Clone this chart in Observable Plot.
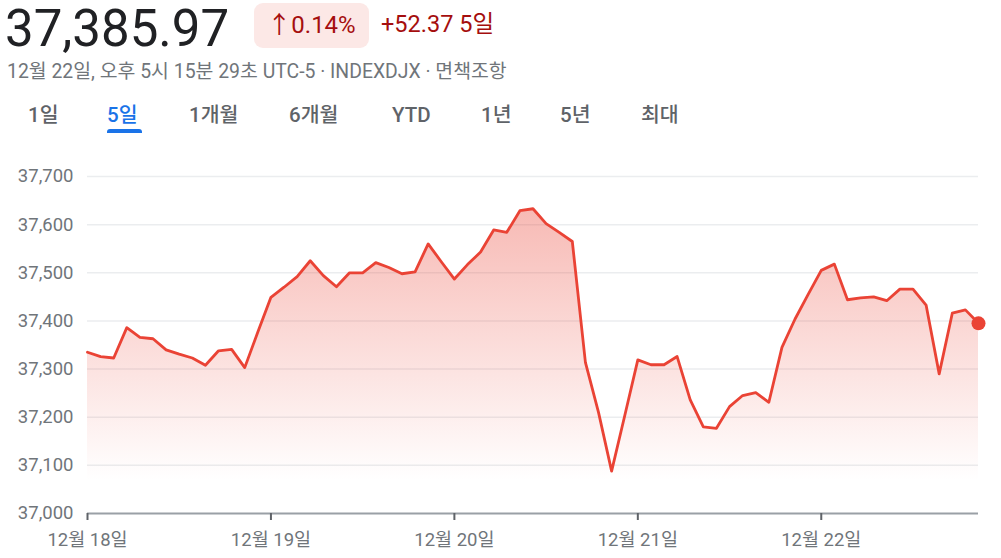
<!DOCTYPE html>
<html>
<head>
<meta charset="utf-8">
<script src="https://cdn.jsdelivr.net/npm/d3@7"></script>
<script src="https://cdn.jsdelivr.net/npm/@observablehq/plot@0.6"></script>
<style>
  html, body { margin: 0; padding: 0; background: #fff; width: 1001px; height: 558px; overflow: hidden; }
  body { position: relative; font-family: Roboto, "Noto Sans CJK KR", sans-serif; }
  .price { position: absolute; left: 5px; top: 0px; font-size: 51px; line-height: 58px; color: #202124; }
  .badge { position: absolute; left: 254px; top: 3px; width: 115px; height: 45px; border-radius: 9px; background: #fce8e6; color: #a50e0e; font-size: 24px; line-height: 45px; text-align: center; }
  .chg { position: absolute; left: 381px; top: 8px; font-size: 23.5px; line-height: 32px; color: #a50e0e; }
  .meta { position: absolute; left: 7px; top: 59px; font-size: 19.4px; line-height: 26px; color: #70757a; white-space: nowrap; }
  .tabs { position: absolute; left: 28px; top: 100px; white-space: nowrap; font-size: 20.5px; line-height: 30px; color: #5f6368; font-weight: 500; }
  .tab { display: inline-block; }
  .tab.on { color: #1a73e8; }
  .uline { position: absolute; left: 107px; top: 129px; width: 35px; height: 4px; border-radius: 3px 3px 0 0; background: #1a73e8; }
  #chart { position: absolute; left: 0; top: 140px; }
</style>
</head>
<body>
<div class="price">37,385.97</div>
<div class="badge">↑0.14%</div>
<div class="chg">+52.37 5일</div>
<div class="meta">12월 22일, 오후 5시 15분 29초 UTC-5 · INDEXDJX · 면책조항</div>
<div class="tabs"><span class="tab" style="width:79px">1일</span><span class="tab on" style="width:82px">5일</span><span class="tab" style="width:100px">1개월</span><span class="tab" style="width:103px">6개월</span><span class="tab" style="width:89px">YTD</span><span class="tab" style="width:79px">1년</span><span class="tab" style="width:81px">5년</span><span class="tab">최대</span></div>
<div class="uline"></div>
<div id="chart"></div>
<script>
const dayLabels = ["12월 18일", "12월 19일", "12월 20일", "12월 21일", "12월 22일"];
const dec18 = [37335, 37326, 37323, 37386, 37366, 37363, 37340, 37331, 37323, 37308, 37338, 37341, 37303, 37377];
const dec19 = [37449, 37470, 37492, 37525, 37494, 37471, 37500, 37500, 37521, 37511, 37498, 37502, 37560, 37523];
const dec20 = [37487, 37517, 37543, 37589, 37584, 37629, 37633, 37602, 37584, 37565, 37314, 37210, 37088, 37203];
const dec21 = [37319, 37309, 37309, 37326, 37236, 37180, 37177, 37222, 37245, 37251, 37231, 37345, 37404, 37455];
const dec22 = [37505, 37518, 37444, 37448, 37450, 37442, 37466, 37466, 37433, 37290, 37416, 37423, 37395];
const yTicks = [37000, 37100, 37200, 37300, 37400, 37500, 37600, 37700];

const days = [dec18, dec19, dec20, dec21, dec22];
const perDay = 14;
const data = days.flatMap((vals, d) => vals.map((v, i) => ({i: d * perDay + i, v})));
const dayStarts = dayLabels.map((_, d) => d * perDay);
const last = data[data.length - 1];
const red = "#ea4335";

const plot = Plot.plot({
  width: 1001,
  height: 418,
  marginLeft: 87,
  marginRight: 23,
  marginTop: 36,
  marginBottom: 45,
  style: {fontFamily: "Roboto, 'Noto Sans CJK KR', sans-serif", fontSize: "18.5px", color: "#70757a", background: "transparent", overflow: "visible"},
  x: {domain: [0, data.length - 1], label: null},
  y: {domain: [37000, 37700], label: null},
  marks: [
    Plot.ruleY(yTicks.slice(1), {stroke: "#ebedef", strokeWidth: 1.5}),
    Plot.areaY(data, {x: "i", y1: 37000, y2: "v", fill: "url(#redfade)"}),
    Plot.ruleY([37000], {stroke: "#9aa0a6", strokeWidth: 2}),
    Plot.lineY(data, {x: "i", y: "v", stroke: red, strokeWidth: 2.8, strokeLinejoin: "round"}),
    Plot.dot([last], {x: "i", y: "v", r: 7, fill: red, stroke: "none"}),
    Plot.axisY({ticks: yTicks, tickFormat: d3.format(","), tickSize: 0, tickPadding: 14, fill: "#70757a", label: null}),
    Plot.axisX({ticks: dayStarts, tickFormat: (d) => dayLabels[d / perDay], tickSize: 7, tickPadding: 12, stroke: "#5f6368", strokeWidth: 2, fill: "#70757a", label: null})
  ]
});

const svg = d3.select(plot);
const defs = svg.insert("defs", ":first-child");
const g = defs.append("linearGradient").attr("id", "redfade")
  .attr("gradientUnits", "userSpaceOnUse").attr("x1", 0).attr("x2", 0).attr("y1", 60).attr("y2", 340);
g.append("stop").attr("offset", 0).attr("stop-color", red).attr("stop-opacity", 0.38);
g.append("stop").attr("offset", 1).attr("stop-color", red).attr("stop-opacity", 0.0);
document.getElementById("chart").appendChild(plot);
</script>
</body>
</html>
